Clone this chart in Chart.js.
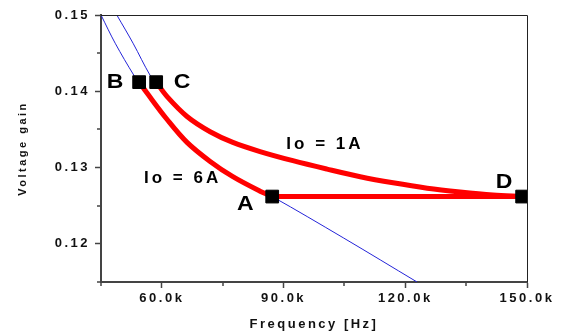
<!DOCTYPE html>
<html>
<head>
  <meta charset="UTF-8">
  <title>Voltage gain vs frequency</title>
  <script src="https://cdn.jsdelivr.net/npm/chart.js"></script>
  <style>
    body {
      margin: 0;
      background: #fff;
    }
  </style>
</head>
<body>
  <canvas id="gainChart" width="564" height="336"></canvas>

  <script>
    // axis ticks
    const freqTicks = [60000, 90000, 120000, 150000];
    const freqMinor = [45000, 75000, 105000, 135000];
    const gainTicks = [0.12, 0.13, 0.14, 0.15];
    const gainMinor = [0.115, 0.125, 0.135, 0.145];

    // thin blue curves (kHz / gain)
    const blue6A_f = [45.0, 48.5, 53.1, 54.4, 56.3, 61.3, 66.2, 71.9, 77.5, 84.2, 87.2, 104.7, 122.9];
    const blue6A_v = [0.1500, 0.1463, 0.1421, 0.1412, 0.1398, 0.1363, 0.1333, 0.1308, 0.1288, 0.1269, 0.1262, 0.1208, 0.1150];
    const blue1A_f = [48.9, 52.9, 57.1, 58.6, 61.3, 66.2, 71.9, 77.5, 84.2, 92.3, 100.7, 108.9, 117.0, 125.4, 133.5, 141.6, 148.8];
    const blue1A_v = [0.1500, 0.1463, 0.1421, 0.1412, 0.1393, 0.1367, 0.1347, 0.1333, 0.1321, 0.1309, 0.1298, 0.1288, 0.1280, 0.1273, 0.1268, 0.1264, 0.1262];

    // thick red paths
    const red6A_f = [54.4, 56.3, 61.3, 66.2, 71.9, 77.5, 84.2, 87.2];
    const red6A_v = [0.1412, 0.1398, 0.1363, 0.1333, 0.1308, 0.1288, 0.1269, 0.1262];
    const red1A_f = [58.6, 61.3, 66.2, 71.9, 77.5, 84.2, 92.3, 100.7, 108.9, 117.0, 125.4, 133.5, 141.6, 148.8];
    const red1A_v = [0.1412, 0.1393, 0.1367, 0.1347, 0.1333, 0.1321, 0.1309, 0.1298, 0.1288, 0.1280, 0.1273, 0.1268, 0.1264, 0.1262];
    const redAD_f = [87.2, 148.8];
    const redAD_v = [0.1262, 0.1262];

    // operating points
    const pointNames = ['A', 'B', 'C', 'D'];
    const pointF = [87.2, 54.4, 58.6, 148.8];
    const pointV = [0.1262, 0.1412, 0.1412, 0.1262];

    // curve captions
    const curveNames = ['Io = 1A', 'Io = 6A'];
    const curveF = [100.2, 65.1];
    const curveV = [0.1330, 0.1286];

    const toXY = (fs, vs) => fs.map((f, i) => ({ x: f * 1000, y: vs[i] }));

    const labelOffset = { A: [-27, 8], B: [-24, 0], C: [26, 0], D: [-18, -14] };

    const extras = {
      id: 'extras',
      beforeDraw(chart) {
        chart.ctx.letterSpacing = '2.5px';
      },
      afterDatasetsDraw(chart) {
        const { ctx, scales: { x, y } } = chart;
        ctx.save();
        ctx.fillStyle = '#000';
        ctx.textAlign = 'center';
        ctx.textBaseline = 'middle';

        ctx.font = 'bold 20px Arial';
        ctx.letterSpacing = '0px';
        pointNames.forEach((n, i) => {
          const px = x.getPixelForValue(pointF[i] * 1000) + labelOffset[n][0];
          const py = y.getPixelForValue(pointV[i]) + labelOffset[n][1];
          ctx.save();
          ctx.translate(px, py);
          ctx.scale(1.15, 1);
          ctx.fillText(n, 0, 0);
          ctx.restore();
        });

        ctx.font = 'bold 17px Arial';
        ctx.letterSpacing = '3px';
        curveNames.forEach((n, i) => {
          ctx.fillText(n, x.getPixelForValue(curveF[i] * 1000), y.getPixelForValue(curveV[i]));
        });
        ctx.restore();
      },
      afterDraw(chart) {
        const { ctx, chartArea: a, scales: { x, y } } = chart;
        ctx.save();
        // thin top/right frame
        ctx.strokeStyle = '#222';
        ctx.lineWidth = 1;
        ctx.beginPath();
        ctx.moveTo(a.left, a.top + 0.5);
        ctx.lineTo(a.right + 0.5, a.top + 0.5);
        ctx.lineTo(a.right + 0.5, a.bottom);
        ctx.stroke();
        // minor ticks
        ctx.strokeStyle = '#444';
        ctx.lineWidth = 1.5;
        ctx.beginPath();
        freqMinor.forEach(v => {
          const px = Math.round(x.getPixelForValue(v));
          ctx.moveTo(px, a.bottom);
          ctx.lineTo(px, a.bottom + 4);
        });
        gainMinor.forEach(v => {
          const py = Math.round(y.getPixelForValue(v));
          ctx.moveTo(a.left, py);
          ctx.lineTo(a.left - 4, py);
        });
        ctx.stroke();
        ctx.restore();
      }
    };

    const tickFont = { family: 'Arial', size: 13, weight: 'bold' };

    new Chart(document.getElementById('gainChart'), {
      type: 'scatter',
      data: {
        datasets: [
          {
            data: toXY(pointF, pointV),
            pointStyle: 'rect',
            pointRadius: 9,
            backgroundColor: '#000',
            borderColor: '#000',
            showLine: false,
            order: 0
          },
          {
            data: toXY(red6A_f, red6A_v),
            showLine: true,
            borderColor: '#ff0000',
            borderWidth: 5,
            pointRadius: 0,
            tension: 0.35,
            order: 1
          },
          {
            data: toXY(red1A_f, red1A_v),
            showLine: true,
            borderColor: '#ff0000',
            borderWidth: 5,
            pointRadius: 0,
            tension: 0.35,
            order: 1
          },
          {
            data: toXY(redAD_f, redAD_v),
            showLine: true,
            borderColor: '#ff0000',
            borderWidth: 5,
            pointRadius: 0,
            order: 1
          },
          {
            data: toXY(blue6A_f, blue6A_v),
            showLine: true,
            borderColor: '#2424d8',
            borderWidth: 1,
            pointRadius: 0,
            tension: 0.35,
            order: 2
          },
          {
            data: toXY(blue1A_f, blue1A_v),
            showLine: true,
            borderColor: '#2424d8',
            borderWidth: 1,
            pointRadius: 0,
            tension: 0.35,
            order: 2
          }
        ]
      },
      options: {
        responsive: false,
        animation: false,
        events: [],
        layout: { padding: { top: 15, right: 37, left: 0, bottom: 0 } },
        plugins: {
          legend: { display: false },
          tooltip: { enabled: false }
        },
        scales: {
          x: {
            type: 'linear',
            min: 45000,
            max: 150000,
            afterBuildTicks: s => { s.ticks = freqTicks.map(v => ({ value: v })); },
            afterFit: s => { s.height = 54; },
            ticks: {
              callback: v => (v / 1000).toFixed(1) + 'k',
              font: tickFont,
              color: '#111',
              padding: 3,
              maxRotation: 0,
              autoSkip: false
            },
            grid: { drawOnChartArea: false, tickLength: 6, tickColor: '#444', tickWidth: 1.5 },
            border: { color: '#444', width: 2 },
            title: {
              display: true,
              text: 'Frequency [Hz]',
              font: { family: 'Arial', size: 13, weight: 'bold' },
              color: '#111',
              padding: { top: 0, bottom: 4 }
            }
          },
          y: {
            min: 0.115,
            max: 0.15,
            afterBuildTicks: s => { s.ticks = gainTicks.map(v => ({ value: v })); },
            afterFit: s => { s.width = 101; },
            ticks: {
              callback: v => v.toFixed(2),
              font: tickFont,
              color: '#111',
              padding: 5
            },
            grid: { drawOnChartArea: false, tickLength: 6, tickColor: '#444', tickWidth: 1.5 },
            border: { color: '#444', width: 2 },
            title: {
              display: true,
              text: 'Voltage gain',
              font: { family: 'Arial', size: 11, weight: 'bold' },
              color: '#111',
              padding: { top: 16, bottom: 0 }
            }
          }
        }
      },
      plugins: [extras]
    });
  </script>
</body>
</html>
